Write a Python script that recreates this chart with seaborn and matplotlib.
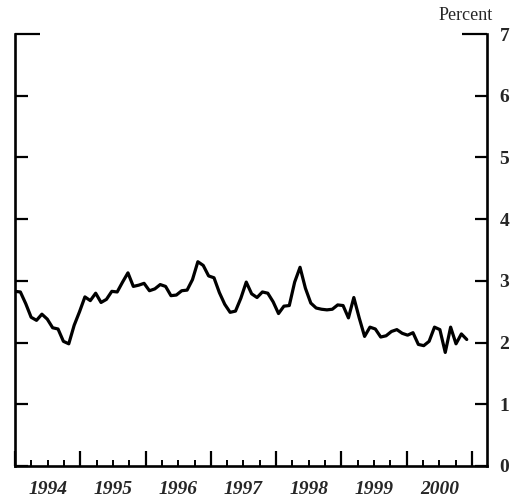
import numpy as np
import pandas as pd
import matplotlib
matplotlib.use("Agg")
import matplotlib.pyplot as plt
import matplotlib.transforms as mtransforms
import seaborn as sns

# Monthly values, Jan 1994 - Dec 2000 (percent)
values_1994 = [2.83, 2.82, 2.63, 2.41, 2.36, 2.46, 2.38, 2.24, 2.22, 2.02, 1.98, 2.28]
values_1995 = [2.50, 2.74, 2.68, 2.80, 2.65, 2.70, 2.83, 2.82, 2.98, 3.13, 2.91, 2.93]
values_1996 = [2.96, 2.84, 2.87, 2.94, 2.91, 2.76, 2.77, 2.84, 2.85, 3.02, 3.31, 3.25]
values_1997 = [3.08, 3.05, 2.81, 2.62, 2.49, 2.51, 2.72, 2.98, 2.79, 2.73, 2.82, 2.80]
values_1998 = [2.66, 2.47, 2.59, 2.60, 2.98, 3.22, 2.88, 2.64, 2.56, 2.54, 2.53, 2.54]
values_1999 = [2.61, 2.60, 2.40, 2.73, 2.40, 2.10, 2.25, 2.22, 2.09, 2.11, 2.18, 2.21]
values_2000 = [2.15, 2.12, 2.16, 1.97, 1.95, 2.02, 2.25, 2.21, 1.84, 2.25, 1.98, 2.14]
values_2000_end = [2.05]

years = [1994, 1995, 1996, 1997, 1998, 1999, 2000]
y_ticks = [0, 1, 2, 3, 4, 5, 6, 7]

values = (values_1994 + values_1995 + values_1996 + values_1997
          + values_1998 + values_1999 + values_2000 + values_2000_end)
df = pd.DataFrame({
    # spread the readings evenly over Jan 1994 - Dec 2000
    "date": years[0] + np.arange(len(values)) * (6.92 / (len(values) - 1)),
    "value": values,
})

sns.set_style("white")
plt.rcParams["font.family"] = ["Liberation Serif", "DejaVu Serif"]

fig = plt.figure(figsize=(5.14, 5.00), dpi=100)
ax = fig.add_axes([15 / 514, 1 - 466 / 500, (487 - 15) / 514, (466 - 34) / 500])

sns.lineplot(data=df, x="date", y="value", ax=ax, color="black", linewidth=2.3)

ax.set_xlim(1994.0, 2001.23)
ax.set_ylim(0, 7)
ax.set_xlabel("")
ax.set_ylabel("")

for side in ["left", "right", "bottom"]:
    ax.spines[side].set_visible(True)
    ax.spines[side].set_linewidth(1.9)
    ax.spines[side].set_color("black")
ax.spines["top"].set_visible(False)

# y ticks on both sides, pointing in, labels on the right
ax.set_yticks(y_ticks)
ax.tick_params(axis="y", which="major", direction="in", length=9, width=1.6,
               left=True, right=True, labelleft=False, labelright=True,
               labelsize=14, pad=9, color="black")
for lab in ax.get_yticklabels():
    lab.set_fontweight("bold")
# longer stubs at the top (7)
top_tick = ax.yaxis.get_major_ticks()[-1]
top_tick.tick1line.set_markersize(18)
top_tick.tick2line.set_markersize(18)

# x ticks: years (tall), quarters (short)
ax.set_xticks(years + [2001])
ax.set_xticklabels([])
quarters = [y + q for y in years + [2001] for q in (0.25, 0.5, 0.75)]
ax.set_xticks([q for q in quarters if q < 2001.23], minor=True)
ax.tick_params(axis="x", which="major", direction="in", length=11, width=1.6,
               bottom=True, top=False, color="black")
ax.tick_params(axis="x", which="minor", direction="in", length=4, width=1.4,
               bottom=True, top=False, color="black")

# year labels centred between the year ticks
trans = mtransforms.blended_transform_factory(ax.transData, ax.transAxes)
for y in years:
    ax.text(y + 0.5, -0.035, str(y), transform=trans, ha="center", va="top",
            fontsize=14, fontstyle="italic", fontweight="bold")

fig.text(493 / 514, 1 - 16 / 500, "Percent", ha="right", va="center", fontsize=13)

fig.savefig("out.png", dpi=100)
